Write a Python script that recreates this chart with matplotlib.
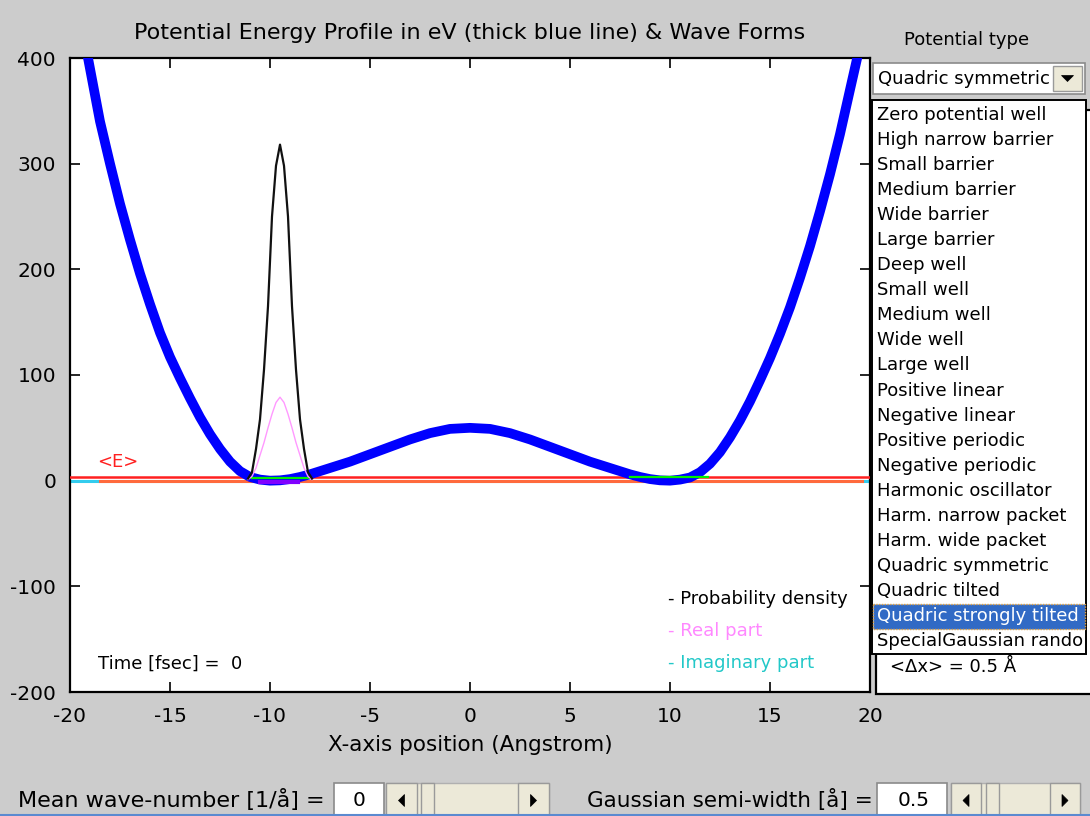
import matplotlib
matplotlib.use("Agg")
import matplotlib.pyplot as plt
from matplotlib.patches import Rectangle, Polygon

# ---------------- data ----------------
pot_x = [-19.6, -19.0, -18.5, -18.0, -17.5, -17.0, -16.5, -16.0, -15.5, -15.0,
         -14.5, -14.0, -13.5, -13.0, -12.5, -12.0, -11.5, -11.0, -10.5, -10.0,
         -9.5, -9.0, -8.5, -8.0, -7.5, -7.0, -6.0, -5.0, -4.0, -3.0, -2.0, -1.0,
         0.0, 1.0, 2.0, 3.0, 4.0, 5.0, 6.0, 7.0, 7.5, 8.0, 8.5, 9.0, 9.5, 10.0,
         10.5, 11.0, 11.5, 12.0, 12.5, 13.0, 13.5, 14.0, 14.5, 15.0, 15.5, 16.0,
         16.5, 17.0, 17.5, 18.0, 18.5, 19.0, 19.6]
pot_v = [450, 390, 340, 300, 262, 228, 196, 167, 140, 117,
         97, 78, 60, 44, 30, 18, 9, 3.5, 1, 0,
         0.3, 1.5, 3.5, 6, 9, 12, 18, 25, 32, 39, 45, 49,
         50, 49, 45, 39, 32, 25, 18, 12, 9, 6, 3.5, 1.5, 0.3, 0,
         1, 3, 8, 16, 27, 41, 57, 75, 95, 116, 139, 164,
         192, 222, 255, 290, 328, 370, 420]

wave_x = [-11.1, -10.9, -10.7, -10.5, -10.3, -10.1, -9.9, -9.7, -9.5,
          -9.3, -9.1, -8.9, -8.7, -8.5, -8.3, -8.1, -7.9]
density = [2, 8, 30, 58, 105, 165, 250, 298, 318, 298, 250, 165, 105, 58, 30, 8, 2]
real_part = [1, 4, 12, 24, 36, 50, 63, 74, 79, 74, 63, 50, 36, 24, 12, 4, 1]
imag_part = [0, 0]
imag_x = [-20, 20]

mean_energy = 3.8

x_ticks = [-20, -15, -10, -5, 0, 5, 10, 15, 20]
y_ticks = [-200, -100, 0, 100, 200, 300, 400]

potential_types = ["Zero potential well", "High narrow barrier", "Small barrier",
                   "Medium barrier", "Wide barrier", "Large barrier", "Deep well",
                   "Small well", "Medium well", "Wide well", "Large well",
                   "Positive linear", "Negative linear", "Positive periodic",
                   "Negative periodic", "Harmonic oscillator", "Harm. narrow packet",
                   "Harm. wide packet", "Quadric symmetric", "Quadric tilted",
                   "Quadric strongly tilted", "SpecialGaussian rando"]
selected_type = "Quadric strongly tilted"
current_type = "Quadric symmetric"

# ---------------- figure ----------------
W, H = 1090, 816
BG = "#cccccc"
FONT = "DejaVu Sans"
plt.rcParams["font.family"] = [FONT]
plt.rcParams["axes.unicode_minus"] = False

fig = plt.figure(figsize=(W / 100, H / 100), dpi=100, facecolor=BG)

ax = fig.add_axes([70 / W, 1 - 692 / H, 800 / W, 634 / H])
ax.set_facecolor("white")
ax.set_xlim(-20, 20)
ax.set_ylim(-200, 400)
ax.set_xticks(x_ticks)
ax.set_yticks(y_ticks)
ax.tick_params(direction="in", length=7, width=1.2, top=True, right=True,
               labelsize=14.5, colors="black")
ax.tick_params(axis="x", pad=11)
ax.tick_params(axis="y", pad=10)
for s in ax.spines.values():
    s.set_linewidth(1.6)
    s.set_color("black")

# horizontal reference lines
ax.plot(imag_x, imag_part, color="#33ccee", lw=2.2, zorder=2)
ax.plot([-18.5, 19.6], [0, 0], color="#ff6a3d", lw=2.2, zorder=3)
ax.plot([-20, 20], [mean_energy, mean_energy], color="#ff2020", lw=1.8, zorder=3)

# potential energy profile
ax.plot(pot_x, pot_v, color="#0000ff", lw=7, solid_capstyle="butt",
        solid_joinstyle="round", zorder=4)

# small marks at the well bottoms
ax.plot([-10.9, -8.1], [2.5, 2.5], color="#00ee00", lw=1.6, zorder=5)
ax.plot([-10.5, -8.6], [-1.5, -1.5], color="#8000ff", lw=3, zorder=5)
ax.plot([8.0, 11.9], [3.2, 3.2], color="#00ee00", lw=1.6, zorder=5)

# wave forms
ax.plot(wave_x, real_part, color="#ff99ff", lw=1.0, zorder=6)
ax.plot(wave_x, density, color="#111111", lw=1.6, zorder=7)

ax.text(-17.6, 18, "<E>", color="#ff2020", fontsize=13, ha="center", va="center")
ax.text(-18.6, -173, "Time [fsec] =  0", color="black", fontsize=13,
        ha="left", va="center")
ax.text(9.9, -112, "- Probability density", color="black", fontsize=13,
        ha="left", va="center")
ax.text(9.9, -142, "- Real part", color="#ff88ff", fontsize=13,
        ha="left", va="center")
ax.text(9.9, -173, "- Imaginary part", color="#22c8c8", fontsize=13,
        ha="left", va="center")

ax.set_title("Potential Energy Profile in eV (thick blue line) & Wave Forms",
             fontsize=16, pad=14)
ax.set_xlabel("X-axis position (Angstrom)", fontsize=15.5, labelpad=6)

# ---------------- GUI controls ----------------
ov = fig.add_axes([0, 0, 1, 1], zorder=10)
ov.set_xlim(0, W)
ov.set_ylim(H, 0)
ov.axis("off")
ov.patch.set_alpha(0)

BTN = "#ece9d8"

def box(x0, y0, x1, y1, fc="white", ec="black", lw=1.0, z=1):
    ov.add_patch(Rectangle((x0, y0), x1 - x0, y1 - y0, facecolor=fc,
                           edgecolor=ec, lw=lw, zorder=z))

def arrow_button(x0, y0, x1, y1, direction, z=3):
    box(x0, y0, x1, y1, fc=BTN, ec="#9a9a9a", lw=1.0, z=z)
    cx, cy = (x0 + x1) / 2, (y0 + y1) / 2
    if direction == "left":
        pts = [(cx + 3, cy - 6), (cx + 3, cy + 6), (cx - 3, cy)]
    elif direction == "right":
        pts = [(cx - 3, cy - 6), (cx - 3, cy + 6), (cx + 3, cy)]
    else:
        pts = [(cx - 6, cy - 3), (cx + 6, cy - 3), (cx, cy + 3)]
    ov.add_patch(Polygon(pts, closed=True, facecolor="black", edgecolor="black",
                         lw=0.5, zorder=z + 1))

# info panel behind the list box
box(876, 110, 1098, 694, fc="white", ec="black", lw=1.6, z=1)
ov.text(890, 667, "<\u0394x> = 0.5 \u00c5", fontsize=13, ha="left",
        va="center", zorder=2)

ov.text(967, 40, "Potential type", fontsize=13, ha="center", va="center")

# popup menu
box(873, 63, 1085, 94, fc="white", ec="#8a8a8a", lw=1.2, z=3)
ov.text(878, 79, current_type, fontsize=13, ha="left", va="center", zorder=4)
arrow_button(1053, 66, 1082, 91, "down", z=4)

# list box
box(872, 100, 1086, 654, fc="white", ec="black", lw=1.4, z=5)
for i, name in enumerate(potential_types):
    yc = 115 + i * 25.05
    col = "black"
    if name == selected_type:
        ov.add_patch(Rectangle((873, yc - 12.5), 212, 25, facecolor="#316ac5",
                               edgecolor="#e0a040", lw=1.0, ls=(0, (1, 1)),
                               zorder=6))
        col = "white"
    ov.text(877, yc, name, fontsize=13, ha="left", va="center", color=col,
            zorder=7, clip_on=True)

# bottom sliders
ov.text(18, 800, "Mean wave-number [1/\u00e5] =", fontsize=16, ha="left",
        va="center")
box(334, 783, 384, 818, fc="white", ec="#8a8a8a", lw=1.2, z=3)
ov.text(359, 801, "0", fontsize=14.5, ha="center", va="center", zorder=4)
box(386, 783, 549, 818, fc=BTN, ec="#b0b0b0", lw=1.0, z=3)
arrow_button(386, 783, 417, 818, "left", z=4)
box(421, 783, 434, 818, fc=BTN, ec="#9a9a9a", lw=1.0, z=4)
arrow_button(518, 783, 549, 818, "right", z=4)

ov.text(587, 800, "Gaussian semi-width [\u00e5] =", fontsize=15.5, ha="left",
        va="center")
box(877, 783, 947, 818, fc="white", ec="#8a8a8a", lw=1.2, z=3)
ov.text(914, 801, "0.5", fontsize=14.5, ha="center", va="center", zorder=4)
box(951, 783, 1080, 818, fc=BTN, ec="#b0b0b0", lw=1.0, z=3)
arrow_button(951, 783, 981, 818, "left", z=4)
box(986, 783, 999, 818, fc=BTN, ec="#9a9a9a", lw=1.0, z=4)
arrow_button(1050, 783, 1080, 818, "right", z=4)

ov.plot([0, W], [815, 815], color="#5b8ad0", lw=1.5, zorder=8)

fig.savefig("out.png", dpi=100, facecolor=BG)
